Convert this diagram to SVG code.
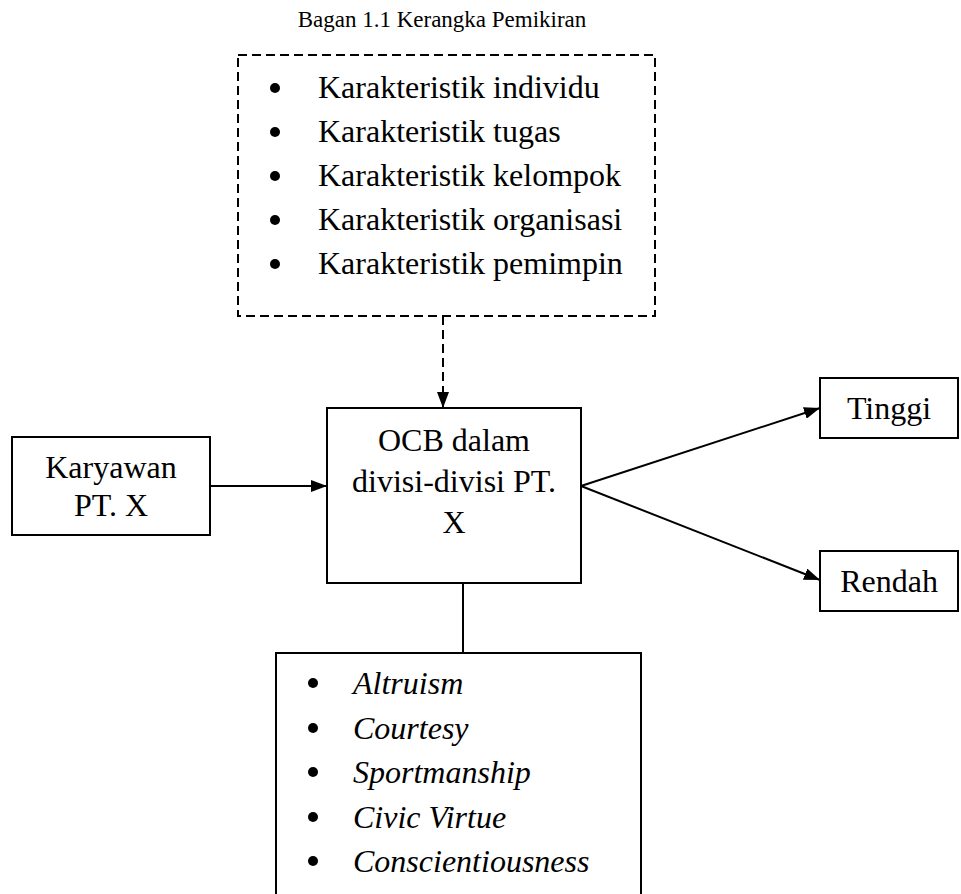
<svg xmlns="http://www.w3.org/2000/svg" width="961" height="894" viewBox="0 0 961 894">
<style>
.t{font-family:"Liberation Serif","Times New Roman",serif;fill:#000;}
.big{font-size:32px;}
.it{font-style:italic;}
.box{fill:#fff;stroke:#000;stroke-width:2;}
.dash{fill:#fff;stroke:#000;stroke-width:2;stroke-dasharray:9 5;}
.ln{fill:none;stroke:#000;stroke-width:2;}
</style>
<defs>
<marker id="ah" viewBox="0 0 16 12" refX="16" refY="6" markerWidth="16" markerHeight="12" markerUnits="userSpaceOnUse" orient="auto">
<path d="M0,0 L16,6 L0,12 Z" fill="#000"/>
</marker>
</defs>
<rect width="961" height="894" fill="#fff"/>
<text id="title" class="t" x="442" y="27" font-size="23" text-anchor="middle">Bagan 1.1 Kerangka Pemikiran</text>
<g id="faktor">
<rect class="dash" x="238" y="55" width="417" height="261"/>
<g class="t big">
<circle cx="275" cy="88" r="5"/><text x="318" y="98">Karakteristik individu</text>
<circle cx="275" cy="132" r="5"/><text x="318" y="142">Karakteristik tugas</text>
<circle cx="275" cy="176" r="5"/><text x="318" y="186">Karakteristik kelompok</text>
<circle cx="275" cy="220" r="5"/><text x="318" y="230">Karakteristik organisasi</text>
<circle cx="275" cy="264" r="5"/><text x="318" y="274">Karakteristik pemimpin</text>
</g>
</g>
<g id="connectors">
<line class="ln" x1="443" y1="316" x2="443" y2="408" stroke-dasharray="9 5" marker-end="url(#ah)"/>
<line class="ln" x1="210" y1="486" x2="327" y2="486" marker-end="url(#ah)"/>
<line class="ln" x1="581" y1="486" x2="820" y2="408" marker-end="url(#ah)"/>
<line class="ln" x1="581" y1="486" x2="820" y2="580" marker-end="url(#ah)"/>
<line class="ln" x1="463" y1="583" x2="463" y2="653"/>
</g>
<g id="karyawan">
<rect class="box" x="12" y="437" width="198" height="98"/>
<text class="t big" x="111" y="478" text-anchor="middle">Karyawan</text>
<text class="t big" x="111" y="516" text-anchor="middle">PT. X</text>
</g>
<g id="ocb">
<rect class="box" x="327" y="408" width="254" height="175"/>
<text class="t big" x="454" y="451" text-anchor="middle">OCB dalam</text>
<text class="t big" x="454" y="492" text-anchor="middle">divisi-divisi PT.</text>
<text class="t big" x="454" y="533" text-anchor="middle">X</text>
</g>
<g id="tinggi">
<rect class="box" x="820" y="378" width="138" height="60"/>
<text class="t big" x="889" y="419" text-anchor="middle">Tinggi</text>
</g>
<g id="rendah">
<rect class="box" x="820" y="551" width="138" height="60"/>
<text class="t big" x="889" y="592" text-anchor="middle">Rendah</text>
</g>
<g id="dimensi">
<rect class="box" x="276" y="653" width="365" height="250"/>
<g class="t big it">
<circle cx="313" cy="683" r="5"/><text x="353" y="694">Altruism</text>
<circle cx="313" cy="728" r="5"/><text x="353" y="739">Courtesy</text>
<circle cx="313" cy="772" r="5"/><text x="353" y="783">Sportmanship</text>
<circle cx="313" cy="817" r="5"/><text x="353" y="828">Civic Virtue</text>
<circle cx="313" cy="861" r="5"/><text x="353" y="872">Conscientiousness</text>
</g>
</g>
</svg>
